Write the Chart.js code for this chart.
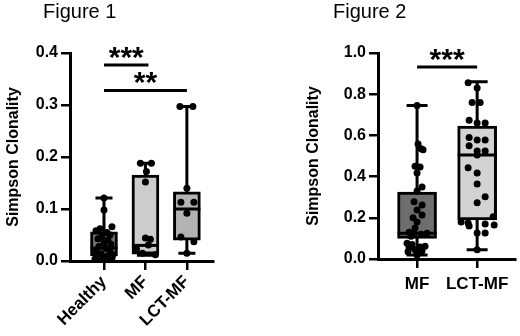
<!DOCTYPE html>
<html>
<head>
<meta charset="utf-8">
<script src="https://cdn.jsdelivr.net/npm/chart.js@4.4.1/dist/chart.umd.min.js"></script>
<style>
  body { margin: 0; background: #fff; }
  #wrap { position: relative; width: 520px; height: 336px; overflow: hidden; }
  .panel { position: absolute; top: 0; width: 260px; height: 336px; }
  .fig-title { position: absolute; top: 1px; font: 20px "Liberation Sans", Arial, sans-serif; color: #000; line-height: 20px; }
</style>
</head>
<body>
<div id="wrap">
  <div class="panel" style="left:0"><canvas id="fig1" width="260" height="336"></canvas></div>
  <div class="panel" style="left:260px"><canvas id="fig2" width="260" height="336"></canvas></div>
  <div class="fig-title" style="left:43px">Figure 1</div>
  <div class="fig-title" style="left:333px">Figure 2</div>
</div>
<script>
// Figure 1 data
const fig1Groups = ['Healthy', 'MF', 'LCT-MF'];
const fig1Colors = ['#707070', '#cccccc', '#b3b3b3'];
// [min, q1, median, q3, max]
const fig1Stats = [
    [0.005, 0.010, 0.025, 0.056, 0.121],
    [0.011, 0.013, 0.030, 0.165, 0.188],
    [0.015, 0.040, 0.100, 0.133, 0.297]
];
const fig1Healthy = [0.121, 0.098, 0.066, 0.062, 0.058, 0.055, 0.050, 0.047, 0.043, 0.040, 0.035, 0.032, 0.028, 0.024, 0.020, 0.018, 0.014, 0.012, 0.009, 0.008, 0.006, 0.005, 0.004];
const fig1HealthyJitter = [0, 0, 8, -4, -8, 3, 6, -2, -6, 4, 0, 7, -5, 2, -8, 6, -3, 9, -7, 3, -1, 8, -9];
const fig1MF = [0.188, 0.188, 0.172, 0.152, 0.044, 0.042, 0.031, 0.023, 0.015, 0.012];
const fig1MFJitter = [-5, 6, 1, 0, 0, 5, 3, -9, -3, 10];
const fig1LCT = [0.297, 0.297, 0.140, 0.113, 0.113, 0.092, 0.046, 0.037, 0.015];
const fig1LCTJitter = [-7, 6, 0, -6, 7, 0, -6, 7, 0];
const fig1Sig = [
    { from: 0, to: 1, y: 0.377, label: '***' },
    { from: 0, to: 2, y: 0.328, label: '**' }
];

// Figure 2 data
const fig2Groups = ['MF', 'LCT-MF'];
const fig2Colors = ['#6e6e6e', '#d3d3d3'];
const fig2Stats = [
    [0.020, 0.100, 0.125, 0.325, 0.745],
    [0.045, 0.190, 0.505, 0.645, 0.860]
];
const fig2MF = [0.745, 0.558, 0.535, 0.530, 0.450, 0.447, 0.417, 0.350, 0.330, 0.278, 0.262, 0.238, 0.214, 0.200, 0.180, 0.150, 0.130, 0.126, 0.125, 0.120, 0.110, 0.077, 0.070, 0.062, 0.058, 0.055, 0.045, 0.040, 0.035, 0.030, 0.020];
const fig2MFJitter = [0, 1, 4, 6, -2, 3, 0, 5, 0, -3, 5, 0, 5, -4, 0, -2, -8, -3, 10, 4, -6, -10, -5, 8, 3, -8, -2, 5, -9, 0, 0];
const fig2LCT = [0.856, 0.830, 0.760, 0.760, 0.673, 0.660, 0.660, 0.590, 0.578, 0.578, 0.550, 0.524, 0.524, 0.505, 0.443, 0.417, 0.364, 0.302, 0.273, 0.205, 0.180, 0.175, 0.170, 0.160, 0.165, 0.126, 0.126, 0.045];
const fig2LCTJitter = [-9, 0, -5, 3, -8, 0, 8, -8, 0, 8, -8, 0, 8, 0, -9, 0, 0, 8, 0, 16, -16, -9, 8, -8, 17, 0, 8, 0];
const fig2Sig = [
    { from: 0, to: 1, y: 0.932, label: '***' }
];

const FONT = '"Liberation Sans", Arial, sans-serif';

// draws whiskers, medians and significance bars from the scales
const boxPlugin = {
    id: 'boxes',
    beforeDatasetsDraw(chart, args, opts) {
        const { ctx, scales: { x, y } } = chart;
        ctx.save();
        ctx.strokeStyle = '#000';
        ctx.lineWidth = 3;
        opts.stats.forEach((s, i) => {
            const cx = x.getPixelForValue(i);
            const yMin = y.getPixelForValue(s[0]);
            const yMax = y.getPixelForValue(s[4]);
            ctx.beginPath();
            ctx.moveTo(cx, yMin);
            ctx.lineTo(cx, yMax);
            ctx.moveTo(cx - opts.cap / 2, yMin);
            ctx.lineTo(cx + opts.cap / 2, yMin);
            ctx.moveTo(cx - opts.cap / 2, yMax);
            ctx.lineTo(cx + opts.cap / 2, yMax);
            ctx.stroke();
        });
        ctx.restore();
    },
    afterDatasetDraw(chart, args, opts) {
        if (args.meta.type !== 'bar') return;
        const { ctx, scales: { x, y } } = chart;
        ctx.save();
        ctx.strokeStyle = '#000';
        ctx.lineWidth = 3;
        opts.stats.forEach((s, i) => {
            const cx = x.getPixelForValue(i);
            const ym = y.getPixelForValue(s[2]);
            ctx.beginPath();
            ctx.moveTo(cx - opts.box / 2, ym);
            ctx.lineTo(cx + opts.box / 2, ym);
            ctx.stroke();
        });
        ctx.restore();
    },
    afterDraw(chart, args, opts) {
        const { ctx, scales: { x, y } } = chart;
        ctx.save();
        ctx.strokeStyle = '#000';
        ctx.fillStyle = '#000';
        ctx.lineWidth = 3;
        ctx.textAlign = 'center';
        ctx.textBaseline = 'alphabetic';
        ctx.font = 'bold 30px ' + FONT;
        opts.sig.forEach(b => {
            const x1 = x.getPixelForValue(b.from);
            const x2 = x.getPixelForValue(b.to) + (b.to === 1 && opts.stats.length === 3 ? 3 : 0);
            const yy = y.getPixelForValue(b.y);
            ctx.beginPath();
            ctx.moveTo(x1, yy);
            ctx.lineTo(x2, yy);
            ctx.stroke();
            ctx.fillText(b.label, (x1 + x2) / 2, yy + 2);
        });
        ctx.restore();
    }
};

function points(values, jitter, group, pxPerUnit) {
    return values.map((v, i) => ({ x: group + jitter[i] / pxPerUnit, y: v }));
}

function makeChart(id, cfg) {
    const tickFont = { family: FONT, size: 16, weight: 'bold' };
    const labelFont = { family: FONT, size: 17, weight: 'bold' };
    return new Chart(document.getElementById(id), {
        type: 'bar',
        data: {
            datasets: [
                {
                    type: 'scatter',
                    data: cfg.points,
                    pointRadius: 3.5,
                    pointBackgroundColor: '#000',
                    pointBorderWidth: 0,
                    order: 0
                },
                {
                    type: 'bar',
                    data: cfg.stats.map((s, i) => ({ x: i, y: [s[1], s[3]] })),
                    backgroundColor: cfg.colors,
                    borderColor: '#000',
                    borderWidth: 3,
                    borderSkipped: false,
                    barThickness: cfg.box,
                    order: 1
                }
            ]
        },
        options: {
            responsive: false,
            animation: false,
            layout: { padding: cfg.padding },
            plugins: {
                legend: { display: false },
                tooltip: { enabled: false },
                boxes: { stats: cfg.stats, cap: cfg.cap, box: cfg.box, sig: cfg.sig }
            },
            scales: {
                x: {
                    type: 'linear',
                    offset: false,
                    min: cfg.xMin,
                    max: cfg.xMax,
                    afterBuildTicks: s => { s.ticks = cfg.groups.map((g, i) => ({ value: i })); },
                    afterFit: s => { s.height = cfg.xHeight; },
                    ticks: {
                        callback: v => cfg.groups[v],
                        minRotation: cfg.rotation,
                        maxRotation: cfg.rotation,
                        autoSkip: false,
                        color: '#000',
                        padding: cfg.xPad,
                        font: labelFont
                    },
                    grid: { offset: false, drawOnChartArea: false, tickLength: 9, color: '#000', lineWidth: 2.5 },
                    border: { color: '#000', width: 3 }
                },
                y: {
                    min: 0,
                    max: cfg.yMax,
                    afterFit: s => { s.width = cfg.yWidth; },
                    ticks: {
                        stepSize: cfg.yStep,
                        callback: v => v.toFixed(1),
                        color: '#000',
                        padding: 3,
                        font: tickFont
                    },
                    grid: { drawOnChartArea: false, tickLength: 9, color: '#000', lineWidth: 2.5 },
                    border: { color: '#000', width: 3 },
                    title: {
                        display: true,
                        text: 'Simpson Clonality',
                        color: '#000',
                        font: tickFont,
                        padding: { top: 4, bottom: 0 }
                    }
                }
            }
        },
        plugins: [boxPlugin]
    });
}

const fig1Unit = 41.5;
makeChart('fig1', {
    groups: fig1Groups,
    colors: fig1Colors,
    stats: fig1Stats,
    sig: fig1Sig,
    points: [
        ...points(fig1Healthy, fig1HealthyJitter, 0, fig1Unit),
        ...points(fig1MF, fig1MFJitter, 1, fig1Unit),
        ...points(fig1LCT, fig1LCTJitter, 2, fig1Unit)
    ],
    box: 27,
    cap: 17,
    padding: { top: 53, right: 47, left: 0, bottom: 0 },
    xMin: -0.82,
    xMax: 2.63,
    xHeight: 75,
    xPad: 2,
    rotation: 45,
    yMax: 0.4,
    yStep: 0.1,
    yWidth: 70
});

const fig2Unit = 60;
makeChart('fig2', {
    groups: fig2Groups,
    colors: fig2Colors,
    stats: fig2Stats,
    sig: fig2Sig,
    points: [
        ...points(fig2MF, fig2MFJitter, 0, fig2Unit),
        ...points(fig2LCT, fig2LCTJitter, 1, fig2Unit)
    ],
    box: 39,
    cap: 21,
    padding: { top: 53, right: 5, left: 40, bottom: 0 },
    xMin: -0.65,
    xMax: 1.63,
    xHeight: 77,
    xPad: 6,
    rotation: 0,
    yMax: 1.0,
    yStep: 0.2,
    yWidth: 78
});
</script>
</body>
</html>
